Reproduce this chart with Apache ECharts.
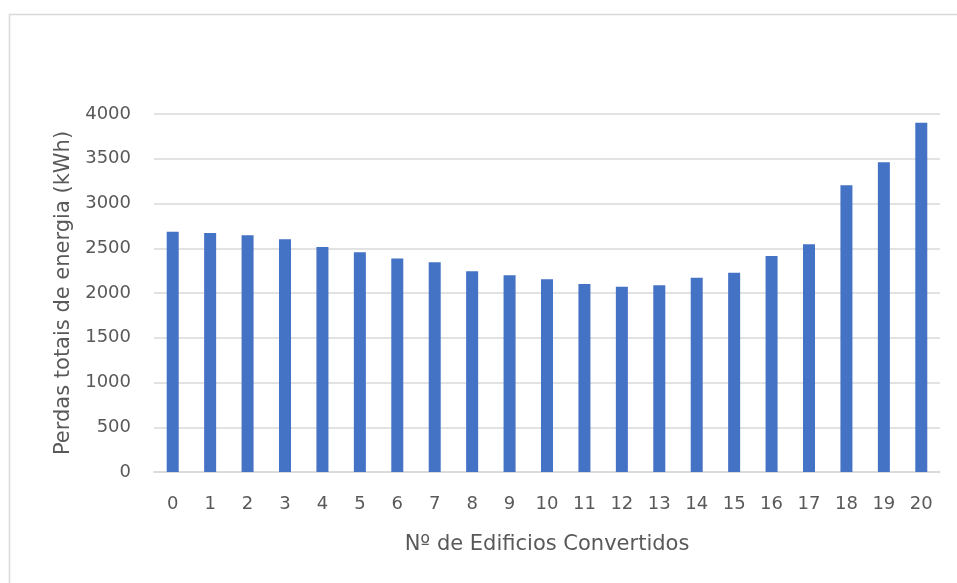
<!DOCTYPE html>
<html>
<head>
<meta charset="utf-8">
<script src="https://cdn.jsdelivr.net/npm/echarts@6/dist/echarts.min.js"></script>
<style>
html,body{margin:0;padding:0;background:#fff;}
#chart{width:957px;height:583px;}
</style>
</head>
<body>
<div id="chart"></div>
<script>
const categories = ['0','1','2','3','4','5','6','7','8','9','10','11','12','13','14','15','16','17','18','19','20'];
const perdas = [2685, 2670, 2645, 2600, 2514, 2455, 2385, 2343, 2242, 2198, 2153, 2100, 2070, 2086, 2171, 2227, 2413, 2544, 3203, 3460, 3903];
const yTicks = { min: 0, max: 4000, interval: 500 };
const xTitle = 'Nº de Edificios Convertidos';
const yTitle = 'Perdas totais de energia (kWh)';

const chart = echarts.init(document.getElementById('chart'), null, { renderer: 'canvas' });
const font = '"DejaVu Sans", "Open Sans", sans-serif';
chart.setOption({
  backgroundColor: '#ffffff',
  animation: false,
  graphic: [{
    type: 'polyline',
    shape: { points: [[9.5, 583], [9.5, 14.5], [957, 14.5]] },
    style: { stroke: '#d9d9d9', lineWidth: 1.5, fill: null }
  }],
  grid: { left: 154, right: 17, top: 114, bottom: 111 },
  xAxis: {
    type: 'category',
    data: categories,
    name: xTitle,
    nameLocation: 'middle',
    nameGap: 62,
    nameTextStyle: { color: '#595959', fontSize: 21, fontFamily: font },
    axisLine: { show: true, lineStyle: { color: '#d9d9d9', width: 1.5 } },
    axisTick: { show: false },
    axisLabel: { color: '#595959', fontSize: 18, fontFamily: font, margin: 23 }
  },
  yAxis: {
    type: 'value',
    min: yTicks.min,
    max: yTicks.max,
    interval: yTicks.interval,
    name: yTitle,
    nameLocation: 'middle',
    nameGap: 80,
    nameTextStyle: { color: '#595959', fontSize: 21, fontFamily: font },
    axisLine: { show: false },
    axisTick: { show: false },
    axisLabel: { color: '#595959', fontSize: 18, fontFamily: font, margin: 23, formatter: v => String(v) },
    splitLine: { lineStyle: { color: '#d9d9d9', width: 1.5 } }
  },
  series: [{
    type: 'bar',
    data: perdas,
    barWidth: 12,
    itemStyle: { color: '#4472C4' }
  }]
});
</script>
</body>
</html>
